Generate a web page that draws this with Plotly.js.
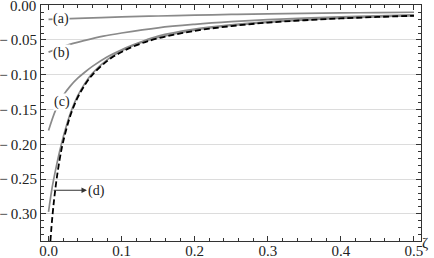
<!DOCTYPE html>
<html><head><meta charset="utf-8">
<script src="https://cdn.plot.ly/plotly-3.0.1.min.js"></script>
<style>html,body{margin:0;padding:0;background:#fff}#c{width:434px;height:258px}</style>
</head><body><div id="c"></div>
<script>
// zeta values and curve values
const zetaA = [0, 0.05, 0.1, 0.15, 0.2, 0.25, 0.3, 0.35, 0.4, 0.45, 0.5];
const curveA = [-0.0205, -0.0185, -0.0168, -0.0155, -0.0143, -0.0133, -0.0124, -0.0117, -0.0111, -0.0106, -0.0101];

const zetaB = [0, 0.025, 0.05, 0.075, 0.1, 0.15, 0.2, 0.25, 0.3, 0.35, 0.4, 0.45, 0.5];
const curveB = [-0.0675, -0.0575, -0.0505, -0.0445, -0.0400, -0.0325, -0.0275, -0.0237, -0.0208, -0.0185, -0.0167, -0.0152, -0.0140];

const zetaC = [0, 0.01, 0.02, 0.03, 0.04, 0.05, 0.06, 0.08, 0.1, 0.125, 0.15, 0.2, 0.25, 0.3, 0.35, 0.4, 0.45, 0.5];
const curveC = [-0.180, -0.150, -0.130, -0.116, -0.105, -0.096, -0.088, -0.0745, -0.064, -0.0535, -0.0445, -0.0345, -0.0283, -0.0239, -0.0207, -0.0182, -0.0163, -0.0147];

const zetaD = [0, 0.005, 0.01, 0.015, 0.02, 0.03, 0.04, 0.05, 0.06, 0.08, 0.1, 0.125, 0.15, 0.2, 0.25, 0.3, 0.35, 0.4, 0.45, 0.5];
const curveD = [-0.297, -0.262, -0.235, -0.211, -0.190, -0.155, -0.130, -0.112, -0.098, -0.0785, -0.0655, -0.0543, -0.0463, -0.0358, -0.0292, -0.0246, -0.0212, -0.0186, -0.0166, -0.0149];

const zetaExact = [0, 0.005, 0.01, 0.015, 0.02, 0.03, 0.04, 0.05, 0.06, 0.08, 0.1, 0.125, 0.15, 0.2, 0.25, 0.3, 0.35, 0.4, 0.45, 0.5];
const curveExact = [-0.378, -0.307, -0.2585, -0.2232, -0.1964, -0.1583, -0.1326, -0.1141, -0.1001, -0.0804, -0.0672, -0.0557, -0.0476, -0.0369, -0.0300, -0.0250, -0.0216, -0.0190, -0.0169, -0.0152];

const xTickVals = [0, 0.1, 0.2, 0.3, 0.4, 0.5];
const xTickText = ['0.0', '0.1', '0.2', '0.3', '0.4', '0.5'];
const xGridVals = [0.1, 0.2, 0.3, 0.4];
const yTickVals = [0, -0.05, -0.1, -0.15, -0.2, -0.25, -0.3];
const yTickText = ['0.00', '\u2212\u20090.05', '\u2212\u20090.10', '\u2212\u20090.15', '\u2212\u20090.20', '\u2212\u20090.25', '\u2212\u20090.30'];

const labels = ['(a)', '(b)', '(c)', '(d)'];
const labelX = [0.0175, 0.018, 0.0178, 0.0663];
const labelY = [-0.0205, -0.068, -0.1394, -0.267];
const arrowTail = [0.005, -0.266];
const arrowHead = [0.0526, -0.266];

const FONT = '"Liberation Serif", "Times New Roman", serif';
const XR = [-0.0103, 0.5096];
const YR = [-0.339, 0.0003];
const gray = '#8a8a8a';

function solid(x, y) {
  return {x: x, y: y, xaxis: 'x2', yaxis: 'y', mode: 'lines', type: 'scatter',
    line: {color: gray, width: 1.7, shape: 'spline', smoothing: 1}, hoverinfo: 'skip'};
}
const traces = [
  solid(zetaA, curveA), solid(zetaB, curveB), solid(zetaC, curveC), solid(zetaD, curveD),
  {x: zetaExact, y: curveExact, xaxis: 'x2', yaxis: 'y', mode: 'lines', type: 'scatter',
   line: {color: '#000', width: 1.8, dash: '6px,3px', shape: 'spline', smoothing: 1}, hoverinfo: 'skip'}
];

// the top tick label sits on the plot edge, where Plotly hides it; draw it as an annotation at that tick
const yTickTextShown = yTickText.map(function (t, i) { return i === 0 ? '' : t; });

const annotations = [];
for (let i = 0; i < 3; i++) {
  annotations.push({x: labelX[i], y: labelY[i], xref: 'x2', yref: 'y', text: labels[i], showarrow: false,
    font: {family: FONT, size: 14, color: '#222'}, bgcolor: '#fff', borderpad: 0,
    xanchor: 'center', yanchor: 'middle'});
}
annotations.push({x: labelX[3], y: labelY[3], xref: 'x2', yref: 'y', text: labels[3], showarrow: false,
  font: {family: FONT, size: 14, color: '#222'}, xanchor: 'center', yanchor: 'middle'});
annotations.push({x: arrowHead[0], y: arrowHead[1], ax: arrowTail[0], ay: arrowTail[1],
  xref: 'x2', yref: 'y', axref: 'x2', ayref: 'y', text: '', showarrow: true,
  arrowhead: 2, arrowsize: 1, arrowwidth: 1.1, arrowcolor: '#333', standoff: 0, startstandoff: 0});
annotations.push({x: 0, y: yTickVals[0], xref: 'paper', yref: 'y', text: yTickText[0], showarrow: false,
  font: {family: FONT, size: 15, color: '#222'}, xanchor: 'right', yanchor: 'middle', xshift: -3, yshift: -1});
annotations.push({x: 1.0105, y: -0.01, xref: 'paper', yref: 'paper', text: '\u03b6', showarrow: false,
  font: {family: FONT, size: 15, color: '#222'}, xanchor: 'center', yanchor: 'middle'});

const layout = {
  width: 434, height: 258,
  margin: {l: 41, r: 13, t: 5, b: 17, pad: 0},
  paper_bgcolor: '#fff', plot_bgcolor: '#fff',
  showlegend: false,
  xaxis: {range: XR, tickmode: 'array', tickvals: xGridVals, showticklabels: false, ticks: '',
    showgrid: true, gridcolor: '#9a9a9a', gridwidth: 1, zeroline: false, showline: false},
  xaxis2: {range: XR, overlaying: 'x', side: 'bottom', tickmode: 'array', tickvals: xTickVals, ticktext: xTickText,
    showgrid: false, zeroline: false, showline: true, linecolor: '#333', linewidth: 1, mirror: 'ticks',
    ticks: 'inside', ticklen: 5, tickcolor: '#333', tickwidth: 1, ticklabelstandoff: -4,
    minor: {dtick: 0.02, tick0: 0, ticks: 'inside', ticklen: 3, tickcolor: '#333', tickwidth: 1, showgrid: false},
    tickfont: {family: FONT, size: 15, color: '#222'}},
  yaxis: {range: YR, tickmode: 'array', tickvals: yTickVals, ticktext: yTickTextShown,
    showgrid: true, gridcolor: '#dcdcdc', gridwidth: 1, zeroline: false,
    showline: true, linecolor: '#333', linewidth: 1, mirror: 'ticks',
    ticks: 'inside', ticklen: 5, tickcolor: '#333', tickwidth: 1,
    minor: {dtick: 0.01, tick0: 0, ticks: 'inside', ticklen: 3, tickcolor: '#333', tickwidth: 1, showgrid: false},
    tickfont: {family: FONT, size: 15, color: '#222'}},
  annotations: annotations
};

Plotly.newPlot('c', traces, layout, {staticPlot: true, displayModeBar: false});
</script></body></html>
